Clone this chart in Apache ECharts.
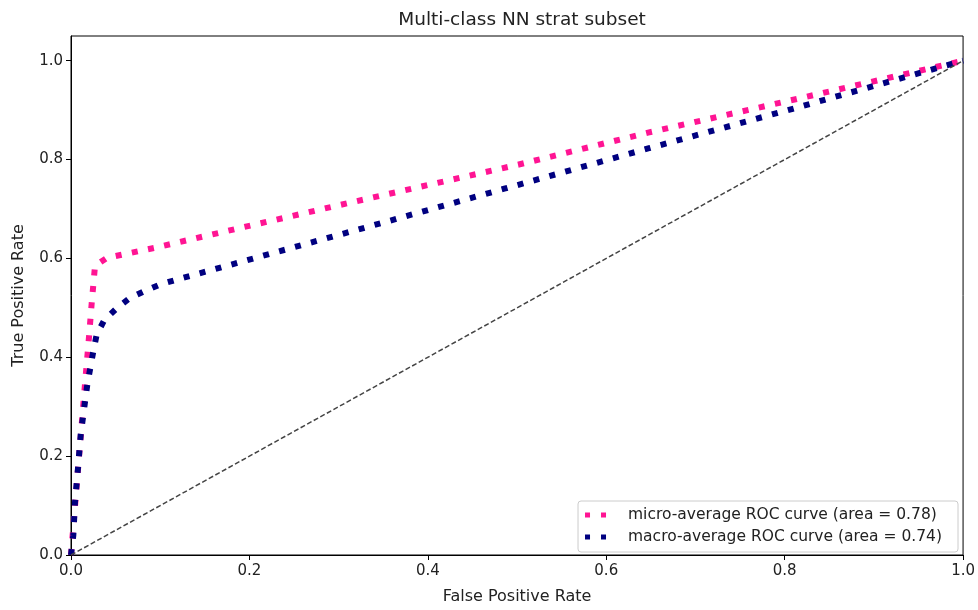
<!DOCTYPE html>
<html>
<head>
<meta charset="utf-8">
<script src="https://cdn.jsdelivr.net/npm/echarts@6/dist/echarts.min.js"></script>
<style>
  html, body { margin: 0; padding: 0; background: #fff; }
  #chart { width: 978px; height: 610px; }
</style>
</head>
<body>
<div id="chart"></div>
<script>
// ROC curves (false positive rate -> true positive rate)
const microFpr = [0, 0.0157, 0.0205, 0.0235, 0.0269, 0.040, 0.0963, 0.188, 0.318, 0.502, 0.648, 0.817, 1];
const microTpr = [0, 0.346, 0.448, 0.516, 0.585, 0.601, 0.6225, 0.661, 0.715, 0.790, 0.855, 0.924, 1];

const macroFpr = [0, 0.0026, 0.0045, 0.0078, 0.0109, 0.0183, 0.025, 0.0288, 0.0373, 0.0512, 0.0661, 0.0837, 0.1008, 0.1184, 0.2105, 0.321, 0.4857, 0.648, 0.8156, 1];
const macroTpr = [0, 0.040, 0.107, 0.175, 0.244, 0.345, 0.412, 0.446, 0.475, 0.499, 0.520, 0.535, 0.548, 0.557, 0.603, 0.658, 0.741, 0.823, 0.906, 1];

const chanceFpr = [0, 1];
const chanceTpr = [0, 1];

const microName = 'micro-average ROC curve (area = 0.78)';
const macroName = 'macro-average ROC curve (area = 0.74)';
const titleText = 'Multi-class NN strat subset';
const xName = 'False Positive Rate';
const yName = 'True Positive Rate';

const zip = (xs, ys) => xs.map((x, i) => [x, ys[i]]);

const FONT = 'DejaVu Sans';
const TXT = '#222';

// legend swatch: two square dots, padded to the right
const dotsIcon = 'path://M0,0h5v5h-5zM16,0h5v5h-5zM37.99,2.5h0.01v0.01h-0.01z';

const chart = echarts.init(document.getElementById('chart'), null, { renderer: 'canvas' });

chart.setOption({
  animation: false,
  backgroundColor: '#fff',
  title: {
    text: titleText,
    left: 517,
    top: 6,
    textAlign: 'center',
    textStyle: { fontFamily: FONT, fontSize: 18.5, fontWeight: 'normal', color: TXT }
  },
  grid: {
    left: 71, right: 14, top: 36, bottom: 52,
    show: true, borderColor: '#000', borderWidth: 1, backgroundColor: '#fff'
  },
  legend: {
    orient: 'vertical',
    right: 20,
    bottom: 58,
    backgroundColor: '#fff',
    borderColor: '#ccc',
    borderWidth: 1,
    borderRadius: 3,
    padding: [6, 16, 7, 7],
    itemGap: 6,
    itemWidth: 38,
    itemHeight: 5,
    symbolKeepAspect: false,
    textStyle: { fontFamily: FONT, fontSize: 15.5, color: TXT },
    data: [
      { name: microName, icon: dotsIcon, itemStyle: { color: '#ff1493' } },
      { name: macroName, icon: dotsIcon, itemStyle: { color: '#000080' } }
    ]
  },
  xAxis: {
    type: 'value',
    min: 0, max: 1, interval: 0.2,
    name: xName,
    nameLocation: 'middle',
    nameGap: 34,
    nameTextStyle: { fontFamily: FONT, fontSize: 16, color: TXT },
    axisLine: { show: true, onZero: false, lineStyle: { color: '#000', width: 1 } },
    axisTick: { show: true, length: 5, lineStyle: { color: '#000' } },
    axisLabel: {
      margin: 9, fontFamily: FONT, fontSize: 15, color: TXT,
      formatter: v => v.toFixed(1)
    },
    splitLine: { show: false }
  },
  yAxis: {
    type: 'value',
    min: 0, max: 1.05, interval: 0.2,
    name: yName,
    nameLocation: 'middle',
    nameGap: 44,
    nameTextStyle: { fontFamily: FONT, fontSize: 16, color: TXT },
    axisLine: { show: true, onZero: false, lineStyle: { color: '#000', width: 1 } },
    axisTick: { show: true, length: 5, lineStyle: { color: '#000' } },
    axisLabel: {
      margin: 8, fontFamily: FONT, fontSize: 15, color: TXT,
      formatter: v => (v > 1.0001 ? '' : v.toFixed(1)),
      showMaxLabel: false
    },
    splitLine: { show: false }
  },
  series: [
    {
      name: microName,
      type: 'line',
      data: zip(microFpr, microTpr),
      symbol: 'none',
      color: '#ff1493',
      lineStyle: { color: '#ff1493', width: 6, type: [6, 10.5], cap: 'butt', join: 'miter' },
      z: 2
    },
    {
      name: macroName,
      type: 'line',
      data: zip(macroFpr, macroTpr),
      symbol: 'none',
      color: '#000080',
      lineStyle: { color: '#000080', width: 6, type: [6, 10.5], cap: 'butt', join: 'miter' },
      z: 3
    },
    {
      name: 'chance',
      type: 'line',
      data: zip(chanceFpr, chanceTpr),
      symbol: 'none',
      color: '#000',
      lineStyle: { color: '#444', width: 1.5, type: [5, 2.5] },
      z: 4
    }
  ]
});
</script>
</body>
</html>
